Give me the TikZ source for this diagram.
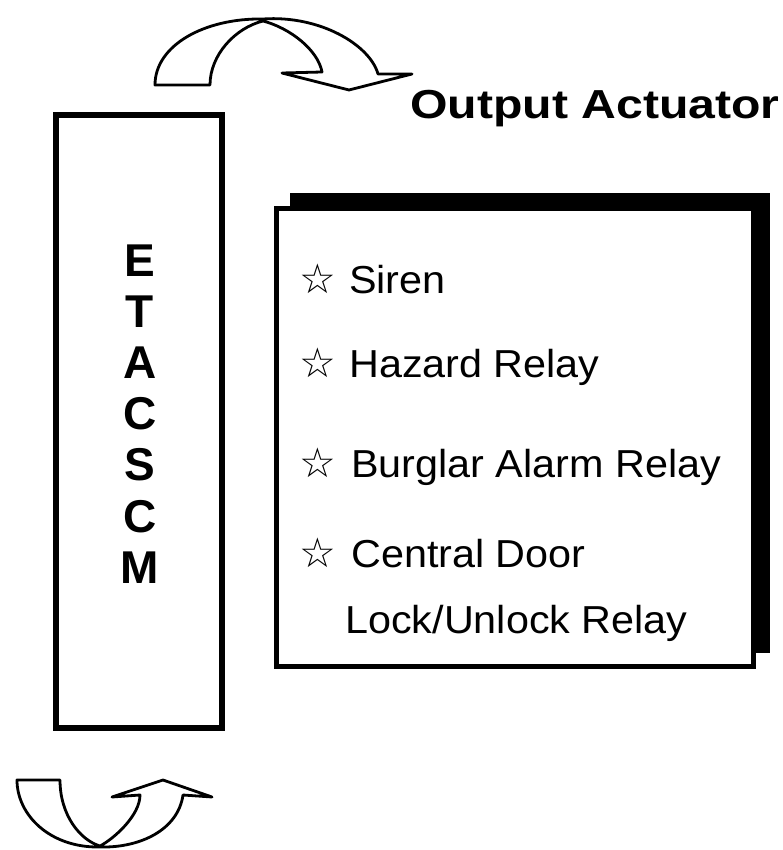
\documentclass[tikz,border=0pt]{standalone}
\usepackage{fontspec}
\setmainfont{Liberation Sans}
\newfontfamily\listfont[FakeStretch=1.06]{Liberation Sans}
\newfontfamily\headfont[FakeStretch=1.19]{Liberation Sans}
\newfontfamily\symfont{DejaVu Sans}
\begin{document}
\begin{tikzpicture}[x=1pt,y=-1pt,
  txt/.style={inner sep=0pt, anchor=base west, font=\listfont\fontsize{39}{47}\selectfont},
  bullet/.style={inner sep=0pt, anchor=base west, font=\symfont\bfseries\fontsize{41}{49}\selectfont},
  letter/.style={inner sep=0pt, anchor=base, font=\bfseries\fontsize{46}{55}\selectfont},
  blockarrow/.style={draw=black, fill=white, line width=2.8pt, line join=round}]
\useasboundingbox (0,0) rectangle (783,850);

% ETACSCM column
\draw[line width=6pt] (56,115) rectangle (222,728);
\foreach \l [count=\i from 0] in {E,T,A,C,S,C,M}
  \node[letter] (L\i) at (140,{276+51.2*\i}) {\l};

% top curved arrow
\draw[blockarrow] (155,85) .. controls (155,45) and (205,18) .. (263,19)
  .. controls (320,15) and (370,45) .. (378,74)
  -- (412,74) -- (349,90) -- (282,73) -- (322,72)
  .. controls (318,50) and (290,28) .. (263,21)
  .. controls (235,28) and (210,55) .. (210,85) -- cycle;

% bottom curved arrow
\draw[blockarrow] (17,780) -- (60,780)
  .. controls (60,815) and (80,840) .. (100,846)
  .. controls (115,838) and (140,815) .. (140,795)
  -- (112,797) -- (163,780) -- (212,797) -- (183,795)
  .. controls (178,830) and (140,848) .. (100,847)
  .. controls (50,848) and (17,815) .. (17,780) -- cycle;

% title
\node[inner sep=0pt, anchor=base west, font=\headfont\bfseries\fontsize{40.5}{48}\selectfont] (title) at (410,119) {Output Actuator};

% output box with shadow
\fill[black] (290,193) rectangle (770,653);
\draw[line width=5pt, fill=white] (276,209) rectangle (753,666);

\node[bullet] (b1) at (299,293) {☆};
\node[txt] (t1) at (349,293) {Siren};
\node[bullet] (b2) at (299,377) {☆};
\node[txt] (t2) at (349,377) {Hazard Relay};
\node[bullet] (b3) at (299,477) {☆};
\node[txt] (t3) at (351,477) {Burglar Alarm Relay};
\node[bullet] (b4) at (299,567) {☆};
\node[txt] (t4) at (351,567) {Central Door};
\node[txt] (t5) at (345,633) {Lock/Unlock Relay};
\end{tikzpicture}
\end{document}
